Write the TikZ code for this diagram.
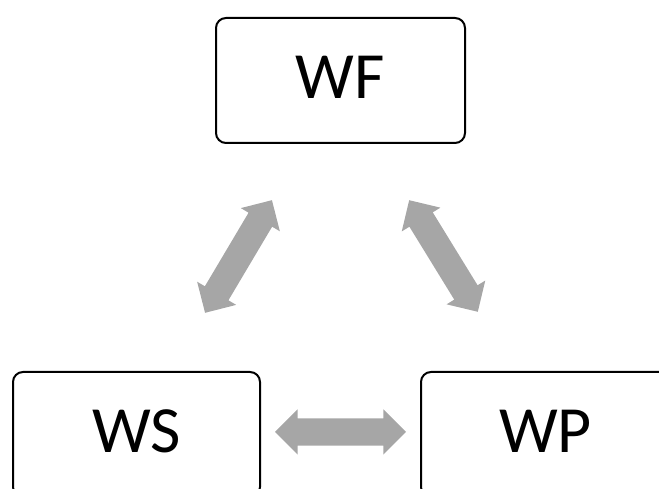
\documentclass[tikz,border=0pt]{standalone}
\usepackage{fontspec}
\setmainfont{Carlito}
\usetikzlibrary{shapes.arrows}
\definecolor{arrowgray}{RGB}{166,166,166}
\tikzset{
  box/.style={draw=black, line width=2pt, rounded corners=10pt, fill=white,
    inner sep=0pt, font=\fontsize{66}{70}\selectfont, text depth=6pt},
  link/.style={shape=double arrow, fill=arrowgray, draw=none, inner sep=0pt,
    minimum height=131pt, minimum width=45pt, text width=0pt,
    text height=13.5pt, text depth=13.5pt,
    double arrow head extend=9pt}
}
\begin{document}
\begin{tikzpicture}[x=1pt,y=1pt]
  \useasboundingbox (0,0) rectangle (659,489);
  \clip (0,0) rectangle (659,489);
  % the three boxes
  \node[box, minimum width=249pt, minimum height=125pt] (wf) at (340.5,408.5) {WF};
  \node[box, minimum width=247pt, minimum height=125pt] (ws) at (136.5,54.5) {WS};
  \node[box, minimum width=249pt, minimum height=125pt] (wp) at (545.5,54.5) {WP};
  % two-way arrows between them
  \node[link, rotate=59.3] (wswf) at (238.5,232.5) {};
  \node[link, rotate=-58.4] (wfwp) at (443.5,233) {};
  \node[link] (wswp) at (340.5,57) {};
\end{tikzpicture}
\end{document}
